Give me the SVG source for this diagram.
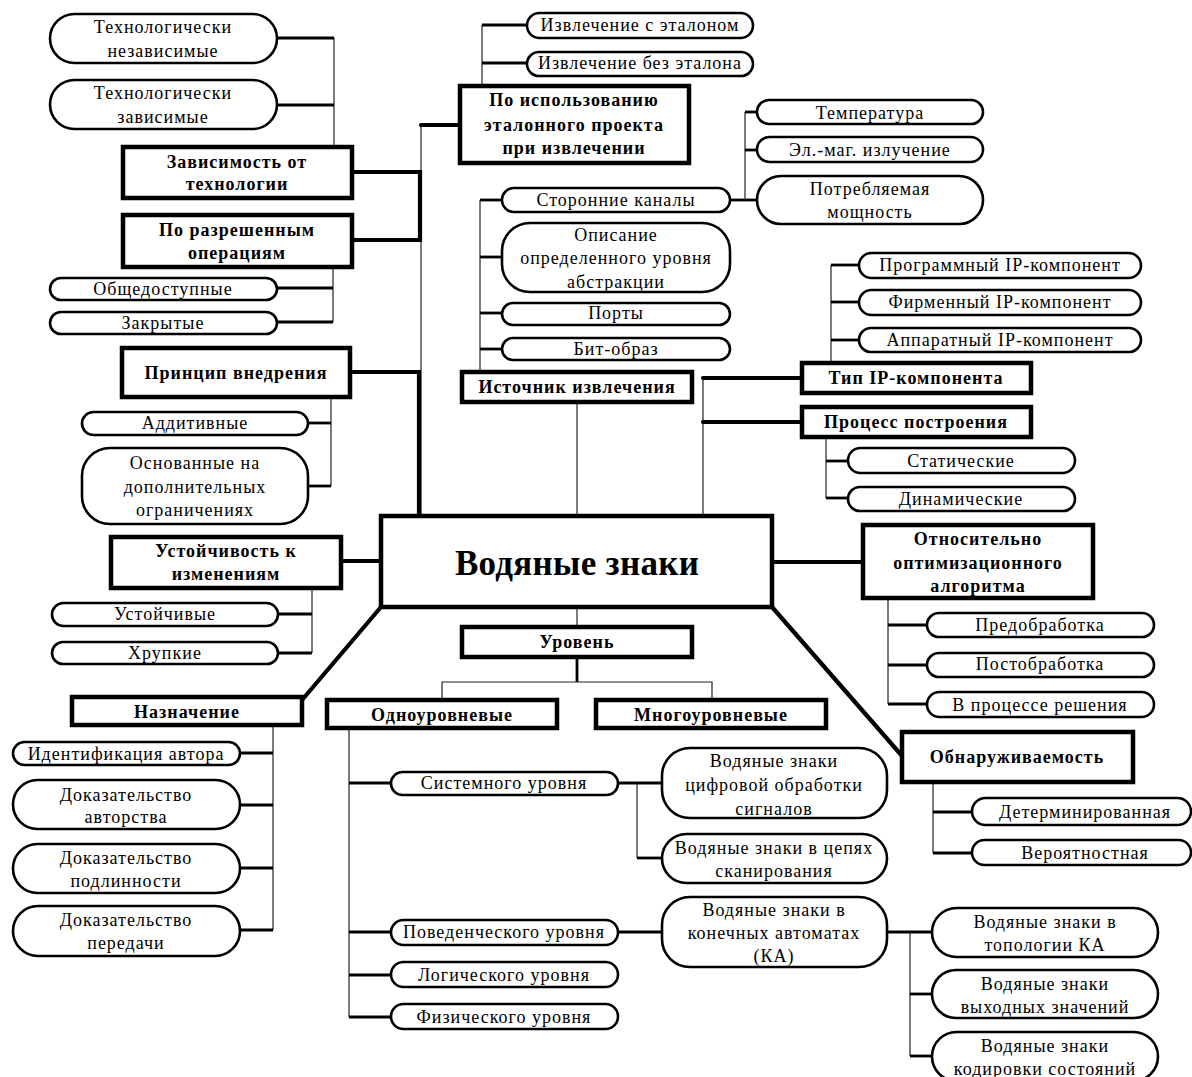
<svg xmlns="http://www.w3.org/2000/svg" width="1192" height="1077" viewBox="0 0 1192 1077">
<style>
.p{fill:#fff;stroke:#000;stroke-width:2.6}
.b{fill:#fff;stroke:#000;stroke-width:4.5}
text{font-family:"Liberation Serif","Times New Roman",serif;font-size:18px;letter-spacing:1px;text-anchor:middle;fill:#000}
.bt{font-weight:bold;font-size:18px;letter-spacing:1px}
.th{stroke:#222;stroke-width:1.2;fill:none}
.tk{stroke:#000;stroke-width:4.2;fill:none;stroke-linecap:round}
.md{stroke:#000;stroke-width:2.8;fill:none}
</style>
<rect width="1192" height="1077" fill="#fff"/>
<g id="connectors">
<line class="th" x1="421" y1="125" x2="421" y2="516"/>
<polyline class="tk" points="460,125 421,125"/>
<polyline class="tk" points="352,172 420,172 420,240 352,240"/>
<polyline class="tk" points="350,372 419,372 419,516"/>
<line class="tk" x1="341" y1="561" x2="381" y2="561"/>
<line class="tk" x1="381" y1="607" x2="302" y2="700"/>
<line class="th" x1="334" y1="38" x2="334" y2="147"/>
<line class="md" x1="277" y1="38" x2="334" y2="38"/>
<line class="md" x1="277" y1="105" x2="334" y2="105"/>
<line class="th" x1="333" y1="267" x2="333" y2="322"/>
<line class="md" x1="277" y1="288" x2="333" y2="288"/>
<line class="md" x1="277" y1="322" x2="333" y2="322"/>
<line class="th" x1="331" y1="397" x2="331" y2="486"/>
<line class="md" x1="308" y1="423" x2="331" y2="423"/>
<line class="md" x1="308" y1="486" x2="331" y2="486"/>
<line class="th" x1="312" y1="588" x2="312" y2="653"/>
<line class="md" x1="278" y1="614" x2="312" y2="614"/>
<line class="md" x1="278" y1="653" x2="312" y2="653"/>
<line class="th" x1="273" y1="725" x2="273" y2="930"/>
<line class="md" x1="240" y1="753" x2="273" y2="753"/>
<line class="md" x1="240" y1="805" x2="273" y2="805"/>
<line class="md" x1="240" y1="868" x2="273" y2="868"/>
<line class="md" x1="240" y1="930" x2="273" y2="930"/>
<line class="th" x1="482" y1="25" x2="482" y2="86"/>
<line class="md" x1="482" y1="25" x2="527" y2="25"/>
<line class="md" x1="482" y1="63" x2="527" y2="63"/>
<line class="th" x1="577" y1="402" x2="577" y2="516"/>
<line class="th" x1="480" y1="200" x2="480" y2="372"/>
<line class="md" x1="480" y1="200" x2="502" y2="200"/>
<line class="md" x1="480" y1="257" x2="502" y2="257"/>
<line class="md" x1="480" y1="313" x2="502" y2="313"/>
<line class="md" x1="480" y1="349" x2="502" y2="349"/>
<line class="md" x1="730" y1="200" x2="745" y2="200"/>
<line class="th" x1="745" y1="112" x2="745" y2="200"/>
<line class="md" x1="745" y1="112" x2="757" y2="112"/>
<line class="md" x1="745" y1="150" x2="757" y2="150"/>
<line class="md" x1="745" y1="200" x2="757" y2="200"/>
<line class="th" x1="703" y1="378" x2="703" y2="516"/>
<line class="tk" x1="703" y1="378" x2="802" y2="378"/>
<line class="tk" x1="703" y1="422" x2="802" y2="422"/>
<line class="th" x1="831" y1="265" x2="831" y2="363"/>
<line class="md" x1="831" y1="265" x2="859" y2="265"/>
<line class="md" x1="831" y1="302" x2="859" y2="302"/>
<line class="md" x1="831" y1="340" x2="859" y2="340"/>
<line class="th" x1="826" y1="437" x2="826" y2="498"/>
<line class="md" x1="826" y1="461" x2="848" y2="461"/>
<line class="md" x1="826" y1="498" x2="848" y2="498"/>
<line class="tk" x1="772" y1="562" x2="863" y2="562"/>
<line class="th" x1="888" y1="598" x2="888" y2="704"/>
<line class="md" x1="888" y1="625" x2="927" y2="625"/>
<line class="md" x1="888" y1="665" x2="927" y2="665"/>
<line class="md" x1="888" y1="704" x2="927" y2="704"/>
<line class="tk" x1="772" y1="607" x2="903" y2="757"/>
<line class="th" x1="933" y1="782" x2="933" y2="853"/>
<line class="md" x1="933" y1="812" x2="972" y2="812"/>
<line class="md" x1="933" y1="853" x2="972" y2="853"/>
<line class="th" x1="577" y1="607" x2="577" y2="627"/>
<line class="md" x1="577" y1="657" x2="577" y2="682"/>
<polyline class="th" points="442,700 442,682 712,682 712,700"/>
<line class="th" x1="349" y1="728" x2="349" y2="1017"/>
<line class="md" x1="349" y1="783" x2="391" y2="783"/>
<line class="md" x1="349" y1="932" x2="391" y2="932"/>
<line class="md" x1="349" y1="975" x2="391" y2="975"/>
<line class="md" x1="349" y1="1017" x2="391" y2="1017"/>
<line class="md" x1="618" y1="783" x2="662" y2="783"/>
<line class="th" x1="637" y1="783" x2="637" y2="858"/>
<line class="md" x1="637" y1="858" x2="662" y2="858"/>
<line class="md" x1="618" y1="932" x2="662" y2="932"/>
<line class="md" x1="887" y1="932" x2="932" y2="932"/>
<line class="th" x1="910" y1="932" x2="910" y2="1056"/>
<line class="md" x1="910" y1="994" x2="932" y2="994"/>
<line class="md" x1="910" y1="1056" x2="932" y2="1056"/>
</g>
<g id="main"><rect class="b" x="381" y="516" width="391" height="91"/><text x="577" y="575" style="font-size:35px;font-weight:bold;letter-spacing:0.3px">Водяные знаки</text></g>
<g id="n1"><rect class="p" x="50" y="14" width="227" height="49" rx="24.5"/><text x="163" y="33">Технологически</text><text x="163" y="57">независимые</text></g>
<g id="n2"><rect class="p" x="50" y="80" width="227" height="49" rx="24.5"/><text x="163" y="99">Технологически</text><text x="163" y="123">зависимые</text></g>
<g id="n3"><rect class="b" x="123" y="147" width="229" height="51"/><text class="bt" x="237" y="168">Зависимость от</text><text class="bt" x="237" y="190">технологии</text></g>
<g id="n4"><rect class="b" x="123" y="215" width="229" height="52"/><text class="bt" x="237" y="236">По разрешенным</text><text class="bt" x="237" y="259">операциям</text></g>
<g id="n5"><rect class="p" x="50" y="278" width="227" height="22" rx="11"/><text x="163" y="295">Общедоступные</text></g>
<g id="n6"><rect class="p" x="50" y="312" width="227" height="22" rx="11"/><text x="163" y="329">Закрытые</text></g>
<g id="n7"><rect class="b" x="122" y="348" width="228" height="49"/><text class="bt" x="236" y="379">Принцип внедрения</text></g>
<g id="n8"><rect class="p" x="82" y="412" width="226" height="23" rx="11.5"/><text x="195" y="429">Аддитивные</text></g>
<g id="n9"><rect class="p" x="82" y="448" width="226" height="76" rx="28"/><text x="195" y="469">Основанные на</text><text x="195" y="493">дополнительных</text><text x="195" y="516">ограничениях</text></g>
<g id="n10"><rect class="b" x="111" y="537" width="230" height="51"/><text class="bt" x="226" y="557">Устойчивость к</text><text class="bt" x="226" y="580">изменениям</text></g>
<g id="n11"><rect class="p" x="52" y="603" width="226" height="23" rx="11.5"/><text x="165" y="620">Устойчивые</text></g>
<g id="n12"><rect class="p" x="52" y="642" width="226" height="22" rx="11"/><text x="165" y="659">Хрупкие</text></g>
<g id="n13"><rect class="b" x="72" y="697" width="230" height="28"/><text class="bt" x="187" y="718">Назначение</text></g>
<g id="n14"><rect class="p" x="13" y="742" width="227" height="23" rx="11.5"/><text x="126" y="760">Идентификация автора</text></g>
<g id="n15"><rect class="p" x="13" y="780" width="227" height="49" rx="24.5"/><text x="126" y="801">Доказательство</text><text x="126" y="823">авторства</text></g>
<g id="n16"><rect class="p" x="13" y="844" width="227" height="49" rx="24.5"/><text x="126" y="864">Доказательство</text><text x="126" y="887">подлинности</text></g>
<g id="n17"><rect class="p" x="13" y="906" width="227" height="50" rx="25"/><text x="126" y="926">Доказательство</text><text x="126" y="949">передачи</text></g>
<g id="n18"><rect class="p" x="527" y="13" width="226" height="25" rx="12.5"/><text x="640" y="31">Извлечение с эталоном</text></g>
<g id="n19"><rect class="p" x="527" y="52" width="226" height="24" rx="12"/><text x="640" y="69">Извлечение без эталона</text></g>
<g id="n20"><rect class="b" x="460" y="86" width="229" height="77"/><text class="bt" x="574" y="106">По использованию</text><text class="bt" x="574" y="131">эталонного проекта</text><text class="bt" x="574" y="154">при извлечении</text></g>
<g id="n21"><rect class="p" x="502" y="188" width="228" height="24" rx="12"/><text x="616" y="206">Сторонние каналы</text></g>
<g id="n22"><rect class="p" x="502" y="223" width="228" height="69" rx="28"/><text x="616" y="241">Описание</text><text x="616" y="264">определенного уровня</text><text x="616" y="288">абстракции</text></g>
<g id="n23"><rect class="p" x="502" y="303" width="228" height="22" rx="11"/><text x="616" y="319">Порты</text></g>
<g id="n24"><rect class="p" x="502" y="338" width="228" height="22" rx="11"/><text x="616" y="355">Бит-образ</text></g>
<g id="n25"><rect class="b" x="462" y="372" width="230" height="30"/><text class="bt" x="577" y="393">Источник извлечения</text></g>
<g id="n26"><rect class="p" x="757" y="100" width="226" height="24" rx="12"/><text x="870" y="119">Температура</text></g>
<g id="n27"><rect class="p" x="757" y="137" width="226" height="25" rx="12.5"/><text x="870" y="156">Эл.-маг. излучение</text></g>
<g id="n28"><rect class="p" x="757" y="176" width="226" height="48" rx="24"/><text x="870" y="195">Потребляемая</text><text x="870" y="218">мощность</text></g>
<g id="n29"><rect class="p" x="859" y="253" width="282" height="25" rx="12.5"/><text x="1000" y="271">Программный IP-компонент</text></g>
<g id="n30"><rect class="p" x="859" y="290" width="282" height="25" rx="12.5"/><text x="1000" y="308">Фирменный IP-компонент</text></g>
<g id="n31"><rect class="p" x="859" y="328" width="282" height="24" rx="12"/><text x="1000" y="346">Аппаратный IP-компонент</text></g>
<g id="n32"><rect class="b" x="802" y="363" width="229" height="30"/><text class="bt" x="916" y="384">Тип IP-компонента</text></g>
<g id="n33"><rect class="b" x="802" y="407" width="229" height="30"/><text class="bt" x="916" y="428">Процесс построения</text></g>
<g id="n34"><rect class="p" x="848" y="448" width="227" height="25" rx="12.5"/><text x="961" y="467">Статические</text></g>
<g id="n35"><rect class="p" x="848" y="487" width="227" height="24" rx="12"/><text x="961" y="505">Динамические</text></g>
<g id="n36"><rect class="b" x="863" y="525" width="230" height="73"/><text class="bt" x="978" y="545">Относительно</text><text class="bt" x="978" y="569">оптимизационного</text><text class="bt" x="978" y="592">алгоритма</text></g>
<g id="n37"><rect class="p" x="927" y="613" width="227" height="24" rx="12"/><text x="1040" y="631">Предобработка</text></g>
<g id="n38"><rect class="p" x="927" y="653" width="227" height="24" rx="12"/><text x="1040" y="670">Постобработка</text></g>
<g id="n39"><rect class="p" x="927" y="692" width="227" height="25" rx="12.5"/><text x="1040" y="711">В процессе решения</text></g>
<g id="n40"><rect class="b" x="902" y="732" width="231" height="50"/><text class="bt" x="1017" y="763">Обнаруживаемость</text></g>
<g id="n41"><rect class="p" x="972" y="798" width="219" height="27" rx="13.5"/><text x="1085" y="818">Детерминированная</text></g>
<g id="n42"><rect class="p" x="972" y="840" width="219" height="25" rx="12.5"/><text x="1085" y="859">Вероятностная</text></g>
<g id="n43"><rect class="b" x="462" y="627" width="230" height="30"/><text class="bt" x="577" y="648">Уровень</text></g>
<g id="n44"><rect class="b" x="327" y="700" width="230" height="28"/><text class="bt" x="442" y="721">Одноуровневые</text></g>
<g id="n45"><rect class="b" x="596" y="700" width="230" height="28"/><text class="bt" x="711" y="721">Многоуровневые</text></g>
<g id="n46"><rect class="p" x="391" y="772" width="227" height="23" rx="11.5"/><text x="504" y="789">Системного уровня</text></g>
<g id="n47"><rect class="p" x="391" y="920" width="227" height="25" rx="12.5"/><text x="504" y="938">Поведенческого уровня</text></g>
<g id="n48"><rect class="p" x="391" y="962" width="227" height="25" rx="12.5"/><text x="504" y="981">Логического уровня</text></g>
<g id="n49"><rect class="p" x="391" y="1004" width="227" height="25" rx="12.5"/><text x="504" y="1023">Физического уровня</text></g>
<g id="n50"><rect class="p" x="662" y="748" width="225" height="70" rx="28"/><text x="774" y="767">Водяные знаки</text><text x="774" y="791">цифровой обработки</text><text x="774" y="815">сигналов</text></g>
<g id="n51"><rect class="p" x="662" y="834" width="225" height="49" rx="24.5"/><text x="774" y="854">Водяные знаки в цепях</text><text x="774" y="877">сканирования</text></g>
<g id="n52"><rect class="p" x="662" y="897" width="225" height="70" rx="28"/><text x="774" y="916">Водяные знаки в</text><text x="774" y="939">конечных автоматах</text><text x="774" y="962">(КА)</text></g>
<g id="n53"><rect class="p" x="932" y="908" width="226" height="49" rx="24.5"/><text x="1045" y="928">Водяные знаки в</text><text x="1045" y="951">топологии КА</text></g>
<g id="n54"><rect class="p" x="932" y="970" width="226" height="48" rx="24"/><text x="1045" y="990">Водяные знаки</text><text x="1045" y="1013">выходных значений</text></g>
<g id="n55"><rect class="p" x="932" y="1032" width="226" height="49" rx="24.5"/><text x="1045" y="1052">Водяные знаки</text><text x="1045" y="1075">кодировки состояний</text></g>
</svg>
